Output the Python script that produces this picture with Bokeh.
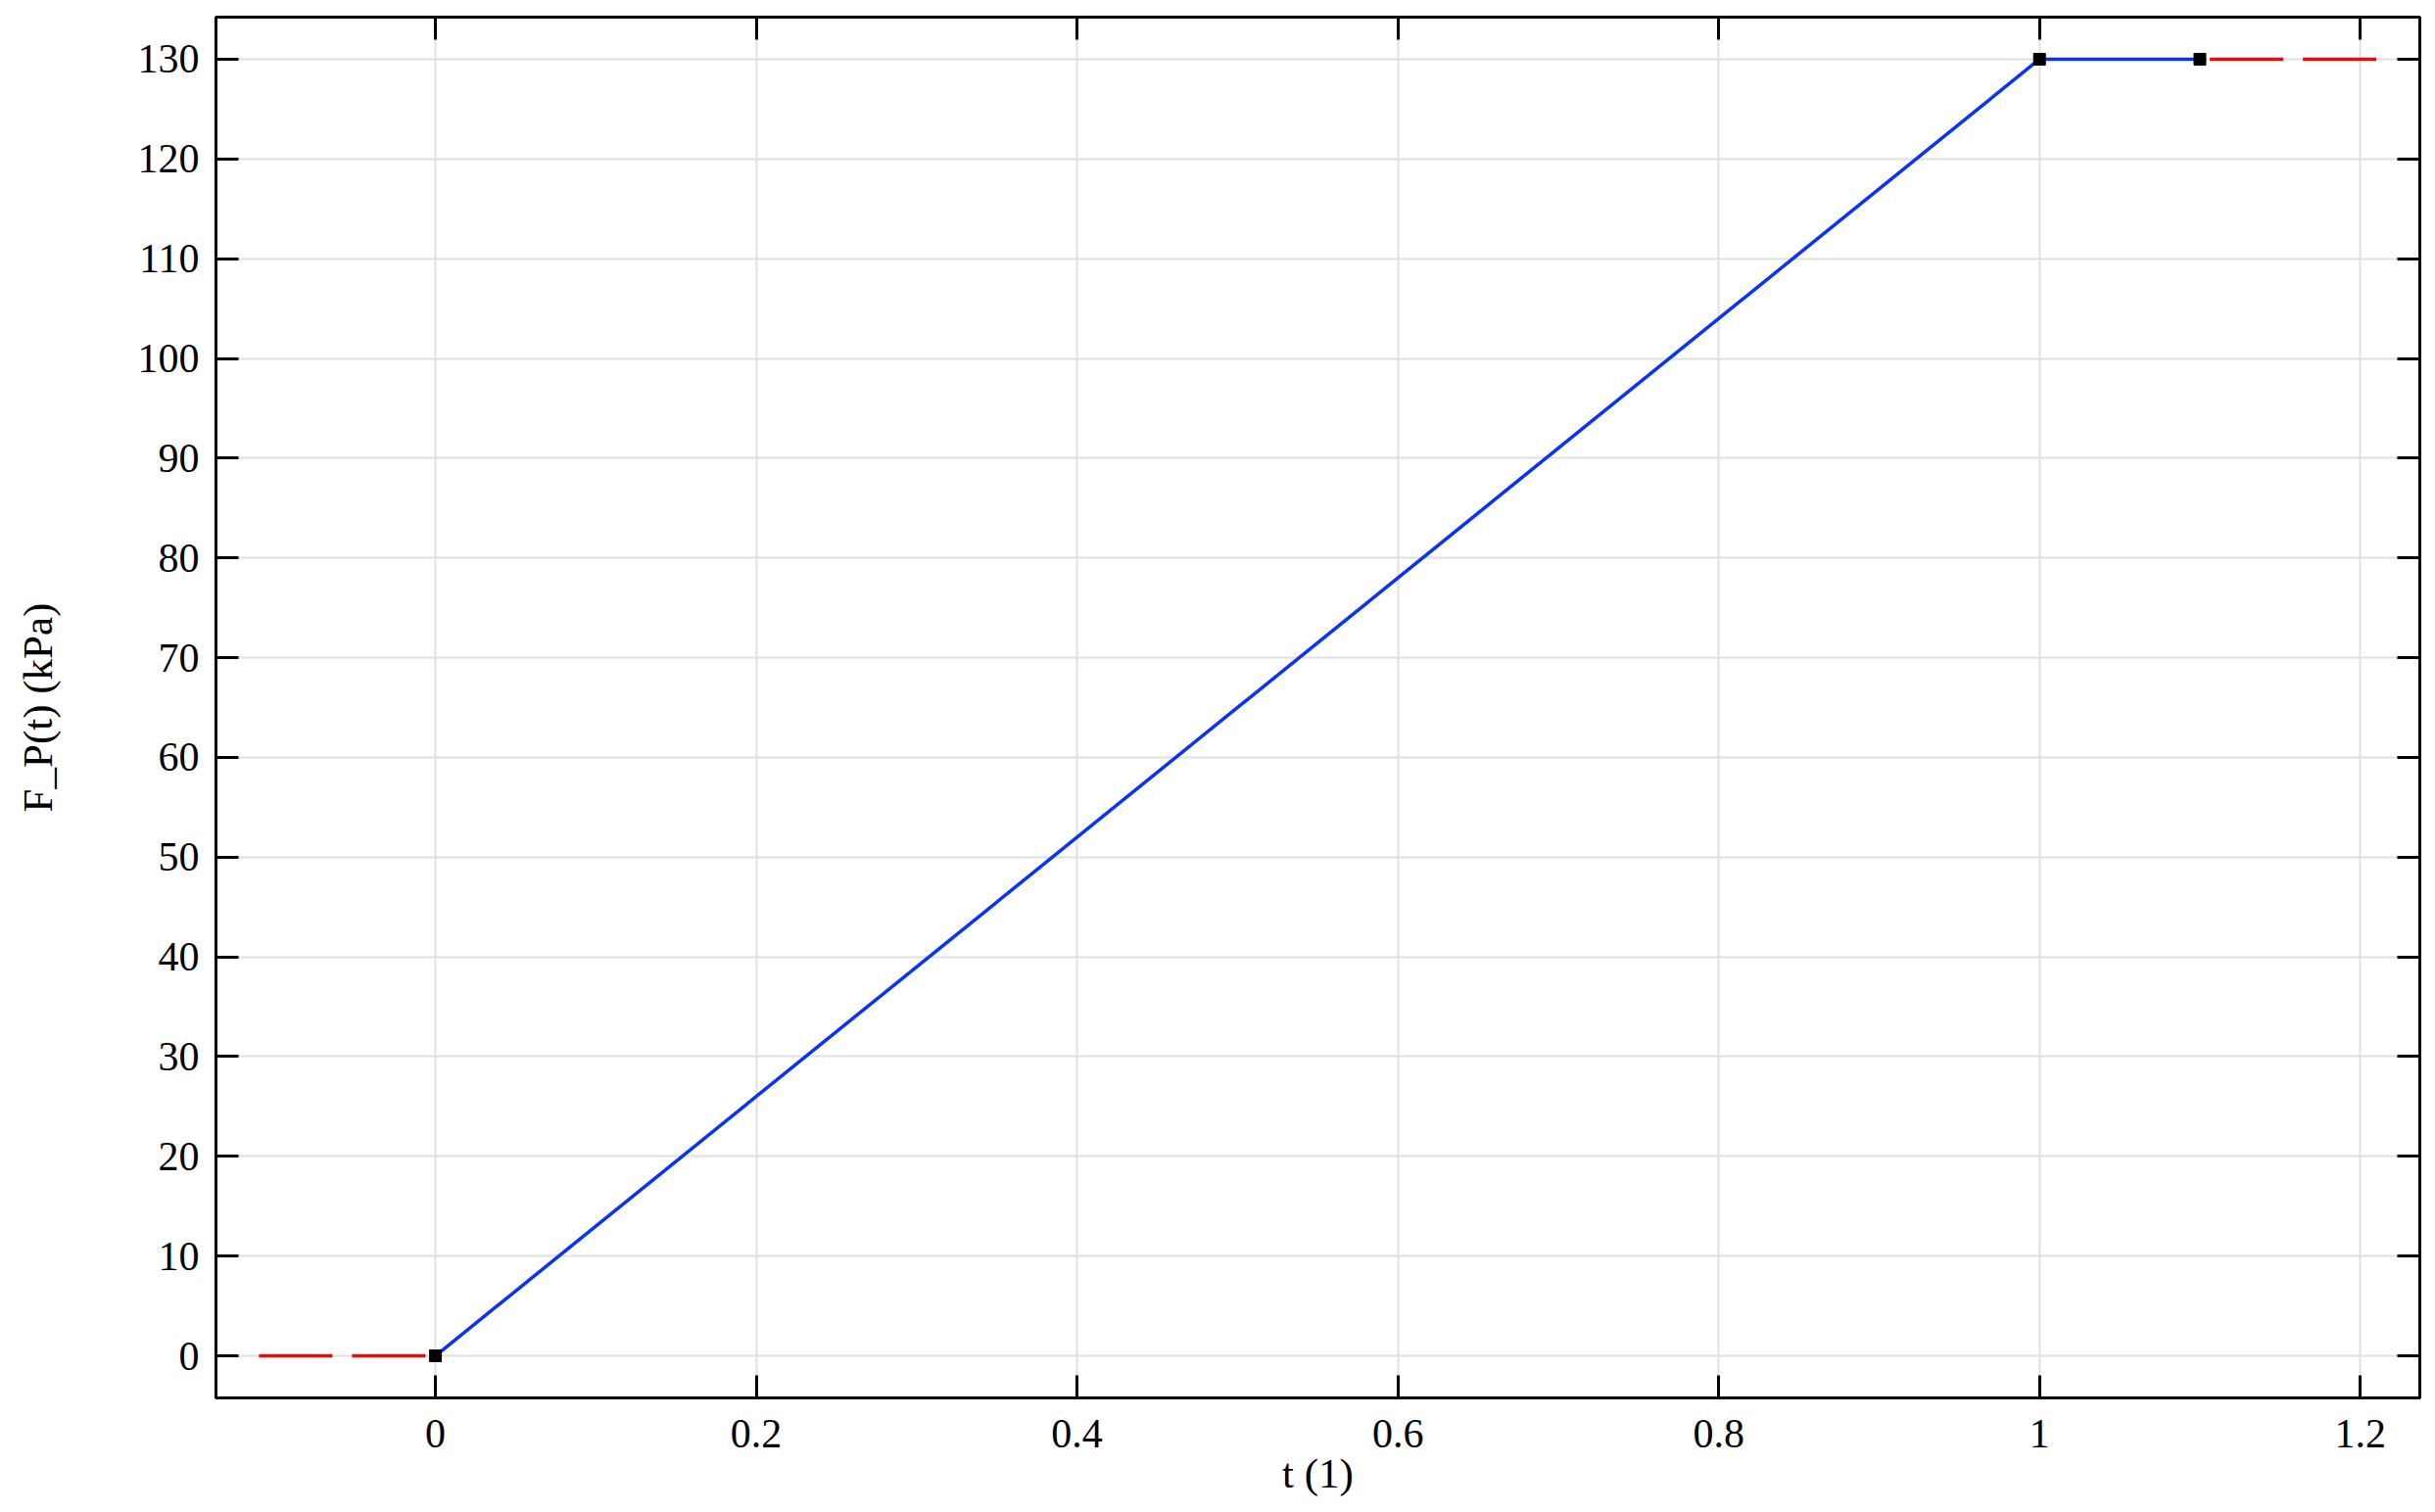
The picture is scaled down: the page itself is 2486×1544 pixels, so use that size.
from bokeh.plotting import figure
from bokeh.models import LinearAxis, FixedTicker, Range1d
from bokeh.embed import file_html
from bokeh.resources import INLINE

# ---- data ----
t_main = [0.0, 1.0, 1.1]
f_main = [0.0, 130.0, 130.0]
t_extra_left = [-0.11, 0.0]
f_extra_left = [0.0, 0.0]
t_extra_right = [1.21, 1.1]
f_extra_right = [130.0, 130.0]
t_points = [0.0, 1.0, 1.1]
f_points = [0.0, 130.0, 130.0]

x_ticks = [0, 0.2, 0.4, 0.6, 0.8, 1.0, 1.2]
x_tick_labels = ["0", "0.2", "0.4", "0.6", "0.8", "1", "1.2"]
y_ticks = [0, 10, 20, 30, 40, 50, 60, 70, 80, 90, 100, 110, 120, 130]
y_tick_labels = [str(v) for v in y_ticks]

x_label = "t (1)"
y_label = "F_P(t) (kPa)"

FONT = "Liberation Serif"
FS = "42px"
FS_LABEL = "43px"

p = figure(width=2478, height=1536, output_backend="svg", toolbar_location=None,
           x_range=Range1d(-0.1368, 1.2371), y_range=Range1d(-4.22, 134.22),
           min_border_left=220, min_border_right=8, min_border_top=17, min_border_bottom=109)
p.background_fill_color = "white"
p.border_fill_color = "white"
p.outline_line_color = "black"
p.outline_line_width = 3

def style_axis(ax, ticks, labels, show_labels):
    ax.ticker = FixedTicker(ticks=ticks)
    ax.major_label_overrides = {t: l for t, l in zip(ticks, labels)}
    ax.axis_line_color = "black"
    ax.axis_line_width = 3
    ax.major_tick_line_color = "black"
    ax.major_tick_line_width = 3
    ax.major_tick_in = 23
    ax.major_tick_out = 0
    ax.minor_tick_line_color = None
    ax.major_label_text_font = FONT
    if show_labels:
        ax.major_label_text_font_size = FS
        ax.major_label_text_color = "black"
    else:
        ax.major_label_text_font_size = "0px"
        ax.major_label_text_color = None
        ax.major_label_standoff = 0

xa = p.xaxis[0]
ya = p.yaxis[0]
style_axis(xa, x_ticks, x_tick_labels, True)
style_axis(ya, y_ticks, y_tick_labels, True)
xa.major_label_standoff = 22
ya.major_label_standoff = 17
xa.axis_label = x_label
ya.axis_label = y_label
for ax in (xa, ya):
    ax.axis_label_text_font = FONT
    ax.axis_label_text_font_size = FS_LABEL
    ax.axis_label_text_font_style = "normal"
    ax.axis_label_text_color = "black"
xa.axis_label_standoff = 0
ya.axis_label_standoff = 76

top = LinearAxis()
right = LinearAxis()
style_axis(top, x_ticks, x_tick_labels, False)
style_axis(right, y_ticks, y_tick_labels, False)
p.add_layout(top, "above")
p.add_layout(right, "right")

p.xgrid.ticker = FixedTicker(ticks=x_ticks)
p.ygrid.ticker = FixedTicker(ticks=y_ticks)
for g in (p.xgrid, p.ygrid):
    g.grid_line_color = "#e0e0e0"
    g.grid_line_width = 2

p.line(t_extra_left, f_extra_left, line_color="#ff0000", line_width=3.5, line_dash="75 20")
p.line(t_extra_right, f_extra_right, line_color="#ff0000", line_width=3.5, line_dash="75 20")
p.line(t_main, f_main, line_color="#0a32ff", line_width=3.5)
p.scatter(t_points, f_points, marker="square", size=12, fill_color="black", line_color="black")

open("out.html", "w").write(file_html(p, INLINE))
